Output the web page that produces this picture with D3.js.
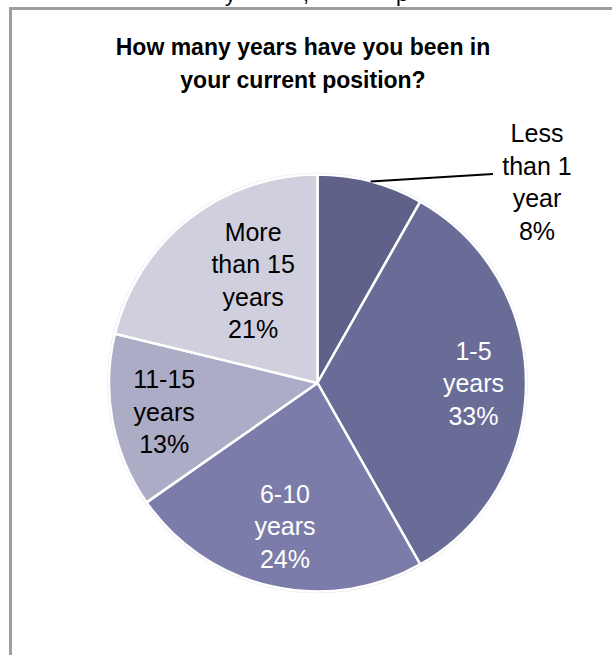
<!DOCTYPE html>
<html>
<head>
<meta charset="utf-8">
<script src="https://cdn.jsdelivr.net/npm/d3@7"></script>
<style>
  html, body { margin: 0; padding: 0; background: #fff; }
  svg { display: block; font-family: "Liberation Sans", Arial, sans-serif; }
</style>
</head>
<body>
<svg id="chart" width="612" height="655"></svg>
<script>
const titleLines = ["How many years have you been in", "your current position?"];
const categories = ["Less\nthan 1\nyear", "1-5\nyears", "6-10\nyears", "11-15\nyears", "More\nthan 15\nyears"];
const values = [8.2, 33.6, 23.5, 13.5, 21.2];
const pctLabels = ["8%", "33%", "24%", "13%", "21%"];
const colors = ["#5f6189", "#6a6c98", "#7b7ca9", "#acacc6", "#cfcfdd"];
const labelColors = ["#000", "#fff", "#fff", "#000", "#000"];

const svg = d3.select("#chart");
const W = 612, H = 655;

// fragment of text above the chart frame (cut off by the page edge)
svg.append("text").attr("x", 225).attr("y", 1).attr("font-size", 22).attr("fill", "#000").text("y");
svg.append("text").attr("x", 303).attr("y", 1).attr("font-size", 22).attr("fill", "#000").text(",");
svg.append("text").attr("x", 396).attr("y", 1).attr("font-size", 22).attr("fill", "#000").text("p");

// chart frame
svg.append("rect")
  .attr("x", 10.5).attr("y", 8.5)
  .attr("width", W + 20).attr("height", H + 20)
  .attr("fill", "#fff")
  .attr("stroke", "#9e9e9e").attr("stroke-width", 3);

// title
svg.append("g").selectAll("text").data(titleLines).join("text")
  .attr("x", 303).attr("y", (d, i) => 55 + i * 33)
  .attr("text-anchor", "middle")
  .attr("font-size", 23).attr("font-weight", "bold").attr("fill", "#000")
  .text(d => d);

const cx = 317.5, cy = 383, r = 208.5;
const g = svg.append("g").attr("transform", `translate(${cx},${cy})`);

const pie = d3.pie().sort(null).value(d => d);
const arcs = pie(values);
const arc = d3.arc().innerRadius(0).outerRadius(r);

// soft outer halo
g.append("circle").attr("r", r + 1).attr("fill", "none").attr("stroke", "#e6e6ee").attr("stroke-width", 1.5);

g.selectAll("path").data(arcs).join("path")
  .attr("d", arc)
  .attr("fill", (d, i) => colors[i])
  .attr("stroke", "#fff").attr("stroke-width", 2.5).attr("stroke-linejoin", "round");

const lineH = 32.5;
const fs = 25;

function labelPos(d, i) {
  const rr = i === 4 ? 121 : (i === 2 ? 147 : 156);
  const off = i === 4 ? 0.105 : 0;
  const a = (d.startAngle + d.endAngle) / 2 + off;
  return [Math.sin(a) * rr, -Math.cos(a) * rr];
}

arcs.forEach((d, i) => {
  const lines = categories[i].split("\n").concat([pctLabels[i]]);
  let px, py;
  if (i === 0) {
    px = 537 - cx; py = 182 - cy;
  } else {
    [px, py] = labelPos(d, i);
  }
  const n = lines.length;
  const t = g.append("text")
    .attr("text-anchor", "middle")
    .attr("font-size", fs)
    .attr("fill", labelColors[i]);
  lines.forEach((ln, k) => {
    t.append("tspan")
      .attr("x", px)
      .attr("y", py + (k - (n - 1) / 2) * lineH + fs * 0.36)
      .text(ln);
  });
});

// leader line for the first slice
const a0 = (arcs[0].startAngle + arcs[0].endAngle) / 2;
const p0 = [Math.sin(a0) * r, -Math.cos(a0) * r];
g.append("path")
  .attr("d", d3.line()([p0, [493 - cx, 174 - cy]]))
  .attr("fill", "none").attr("stroke", "#000").attr("stroke-width", 2);
</script>
</body>
</html>
